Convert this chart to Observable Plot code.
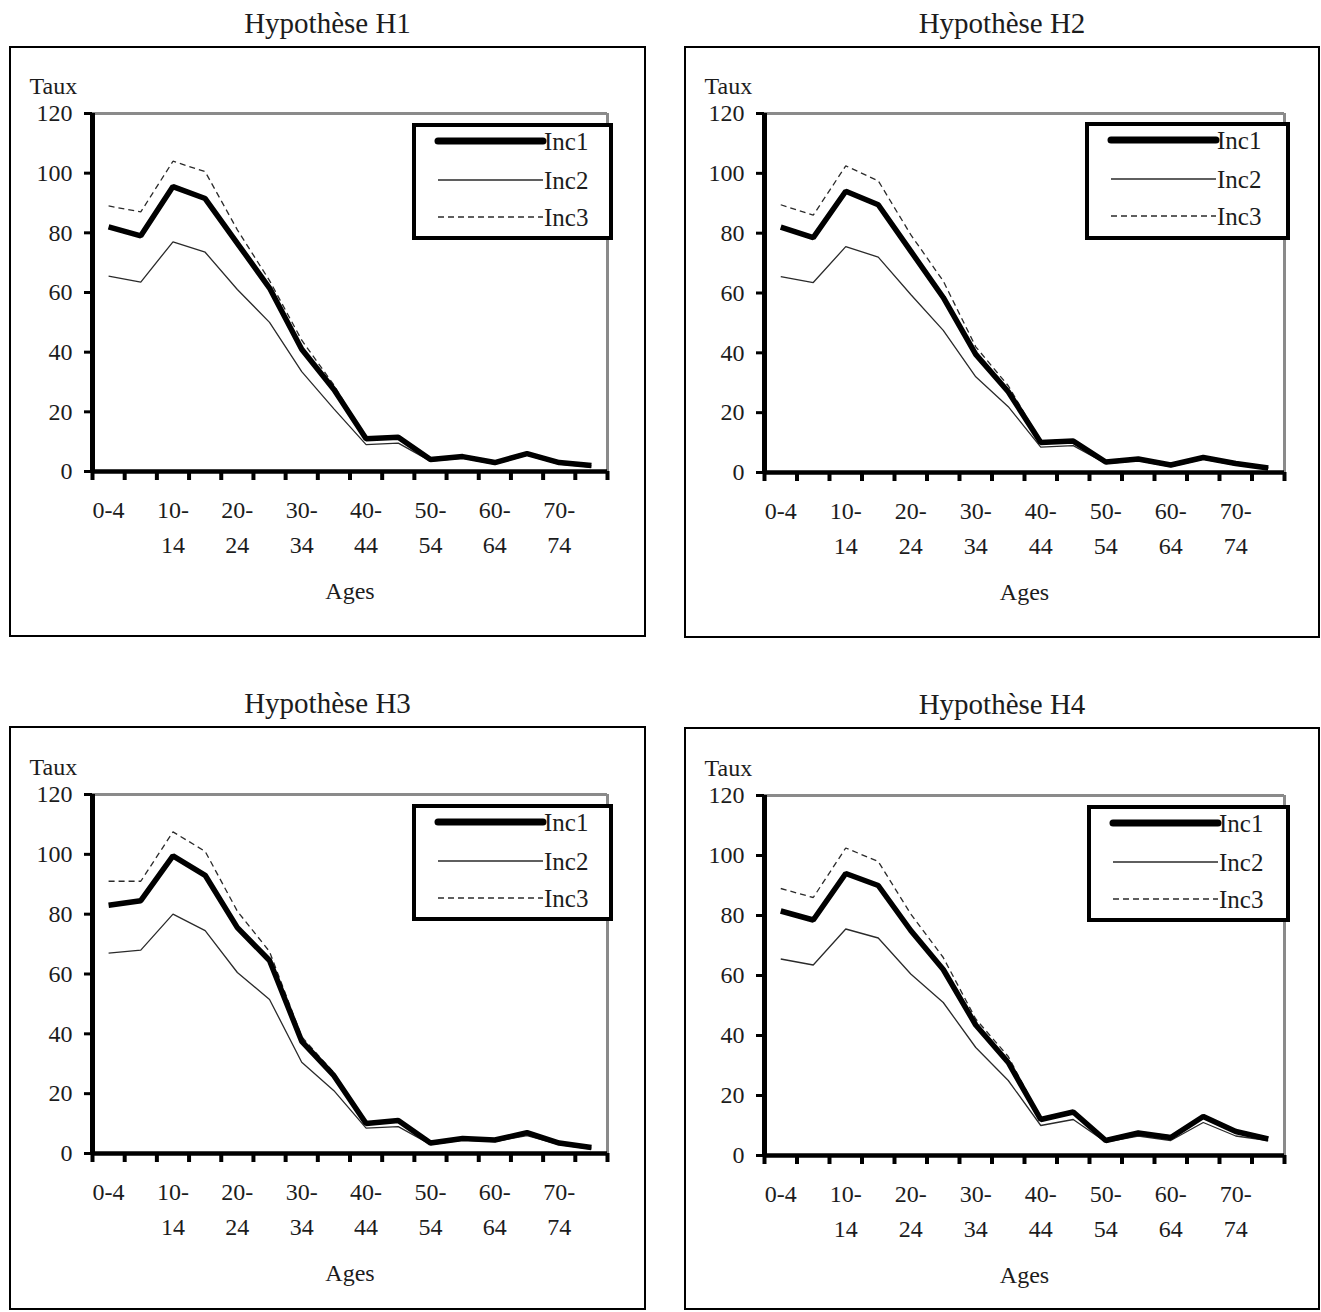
<!DOCTYPE html>
<html>
<head>
<meta charset="utf-8">
<script src="https://cdn.jsdelivr.net/npm/d3@7"></script>
<script src="https://cdn.jsdelivr.net/npm/@observablehq/plot@0.6"></script>
<style>
  html, body { margin: 0; padding: 0; background: #fff; }
  body { width: 1321px; height: 1312px; position: relative; overflow: hidden;
         font-family: "Liberation Serif", serif; color: #1c1c1c; }
  .box { position: absolute; border: 2px solid #000; box-sizing: border-box; }
  .title { position: absolute; text-align: center; font-size: 29px; line-height: 34px; white-space: nowrap; }
  .chart { position: absolute; }
  .chart svg, .chart svg text { font-family: "Liberation Serif", serif !important; }
  .legend { position: absolute; border: 4px solid #000; box-sizing: border-box; background: #fff; }
  .legend text { font-family: "Liberation Serif", serif; }
</style>
</head>
<body>
<script>
// ---- data ----
const ages = ["0-4","5-9","10-14","15-19","20-24","25-29","30-34","35-39","40-44","45-49","50-54","55-59","60-64","65-69","70-74","75+"];
const xTickLabels = ["0-4","10-\n14","20-\n24","30-\n34","40-\n44","50-\n54","60-\n64","70-\n74"];
const yTicks = [0, 20, 40, 60, 80, 100, 120];
const seriesNames = ["Inc1", "Inc2", "Inc3"];
const titles = ["Hypothèse H1", "Hypothèse H2", "Hypothèse H3", "Hypothèse H4"];
const yLabel = "Taux";
const xLabel = "Ages";

const h1Inc1 = [82, 79, 95.5, 91.5, 76.5, 61.5, 41, 27.5, 11, 11.5, 4, 5, 3, 6, 3, 2];
const h1Inc2 = [65.5, 63.5, 77, 73.5, 61, 50, 33.5, 21, 9, 9.5, 3.5, 4.5, 2.5, 5.5, 2.5, 1.5];
const h1Inc3 = [89, 87, 104, 100.5, 81, 64, 44, 29, 11, 12, 4, 5, 3, 6, 3, 2];

const h2Inc1 = [82, 78.5, 94, 89.5, 74, 58.5, 39.5, 27, 10, 10.5, 3.5, 4.5, 2.5, 5, 3, 1.5];
const h2Inc2 = [65.5, 63.5, 75.5, 72, 59.5, 47.5, 32, 22, 8.5, 9, 3, 4, 2, 4.5, 2.5, 1.5];
const h2Inc3 = [89.5, 86, 102.5, 97.5, 79.5, 64, 42, 29, 10.5, 11, 3.5, 4.5, 2.5, 5, 3, 1.5];

const h3Inc1 = [83, 84.5, 99.5, 93, 75.5, 64.5, 37.5, 26, 10, 11, 3.5, 5, 4.5, 7, 3.5, 2];
const h3Inc2 = [67, 68, 80, 74.5, 60.5, 51.5, 30.5, 21, 8.5, 9, 3, 4.5, 4, 6, 3, 1.5];
const h3Inc3 = [91, 91, 107.5, 101, 81, 67.5, 39, 27, 10, 11, 3.5, 5, 4.5, 7, 3.5, 2];

const h4Inc1 = [81.5, 78.5, 94, 90, 75, 62, 43.5, 31, 12, 14.5, 5, 7.5, 6, 13, 8, 5.5];
const h4Inc2 = [65.5, 63.5, 75.5, 72.5, 60.5, 51, 36, 25, 10, 12, 4.5, 6.5, 5, 11, 6.5, 5];
const h4Inc3 = [89, 86, 102.5, 98, 80.5, 66, 45.5, 33, 12.5, 15, 5.5, 8, 6.5, 13.5, 8.5, 6];

// ---- layout (page pixels) ----
const panels = [
  {title: titles[0], series: [h1Inc1, h1Inc2, h1Inc3],
   box: {l: 9, t: 46, r: 646, b: 637}, frame: {l: 92, r: 607, t: 113, b: 471}, legend: {l: 412, t: 123, r: 613, b: 240}},
  {title: titles[1], series: [h2Inc1, h2Inc2, h2Inc3],
   box: {l: 684, t: 46, r: 1320, b: 638}, frame: {l: 764, r: 1284, t: 113, b: 472}, legend: {l: 1085, t: 122, r: 1290, b: 240}},
  {title: titles[2], series: [h3Inc1, h3Inc2, h3Inc3],
   box: {l: 9, t: 726, r: 646, b: 1310}, frame: {l: 92, r: 607, t: 794, b: 1153}, legend: {l: 412, t: 804, r: 613, b: 921}},
  {title: titles[3], series: [h4Inc1, h4Inc2, h4Inc3],
   box: {l: 684, t: 727, r: 1320, b: 1310}, frame: {l: 764, r: 1284, t: 795, b: 1155}, legend: {l: 1087, t: 805, r: 1290, b: 922}}
];

const styles = {
  Inc1: {stroke: "#000", strokeWidth: 5.5, dash: null},
  Inc2: {stroke: "#2a2a2a", strokeWidth: 1.3, dash: null},
  Inc3: {stroke: "#2a2a2a", strokeWidth: 1.3, dash: "6,4"}
};
const FONT = "Liberation Serif";

function drawPanel(p) {
  const {box, frame, legend} = p;
  const W = box.r - box.l, H = box.b - box.t;

  const border = document.createElement("div");
  border.className = "box";
  Object.assign(border.style, {left: box.l + "px", top: box.t + "px", width: W + "px", height: H + "px"});
  document.body.appendChild(border);

  const title = document.createElement("div");
  title.className = "title";
  title.textContent = p.title;
  Object.assign(title.style, {left: box.l + "px", width: W + "px", top: (box.t - 40) + "px"});
  document.body.appendChild(title);

  const rows = seriesNames.map((name, k) => p.series[k].map((v, i) => ({i, v, name})));
  const lineMark = (k) => {
    const st = styles[seriesNames[k]];
    return Plot.lineY(rows[k], {
      x: d => d.i + 0.5, y: d => d.v,
      stroke: st.stroke, strokeWidth: st.strokeWidth,
      strokeDasharray: st.dash || undefined,
      strokeLinejoin: "miter", strokeLinecap: "butt"
    });
  };
  const labelPositions = xTickLabels.map((_, j) => 2 * j + 0.5);

  const svg = Plot.plot({
    width: W, height: H,
    marginLeft: frame.l - box.l, marginRight: box.r - frame.r,
    marginTop: frame.t - box.t, marginBottom: box.b - frame.b,
    style: {fontFamily: FONT, fontSize: "24px", color: "#1c1c1c", background: "transparent", overflow: "visible"},
    x: {type: "linear", domain: [0, ages.length]},
    y: {type: "linear", domain: [0, 120]},
    marks: [
      Plot.ruleY([120], {stroke: "#8a8a8a", strokeWidth: 3}),
      Plot.ruleX([ages.length], {stroke: "#8a8a8a", strokeWidth: 3}),
      lineMark(1),
      lineMark(2),
      lineMark(0),
      Plot.ruleX([0], {stroke: "#000", strokeWidth: 5}),
      Plot.ruleY([0], {stroke: "#000", strokeWidth: 4.5}),
      Plot.axisY(yTicks, {tickSize: 8, tickPadding: 12, strokeWidth: 3, stroke: "#000",
        fontSize: 24, fontFamily: FONT, label: null, tickFormat: d => String(d)}),
      Plot.axisX(d3.range(ages.length + 1), {tickSize: 9, strokeWidth: 4, stroke: "#000",
        tickFormat: () => "", label: null}),
      Plot.axisX(labelPositions, {tickSize: 0, tickPadding: 22, fontSize: 24, fontFamily: FONT, lineHeight: 1.45,
        label: null, tickFormat: d => xTickLabels[Math.round((d - 0.5) / 2)]}),
      Plot.text([yLabel], {frameAnchor: "top-left", text: d => d, textAnchor: "start", lineAnchor: "bottom",
        dx: box.l + 20 - frame.l, dy: -20, fontSize: 24, fontFamily: FONT}),
      Plot.text([xLabel], {frameAnchor: "bottom", text: d => d, lineAnchor: "middle", dy: 120, fontSize: 24, fontFamily: FONT})
    ]
  });
  const wrap = document.createElement("div");
  wrap.className = "chart";
  Object.assign(wrap.style, {left: box.l + "px", top: box.t + "px"});
  wrap.appendChild(svg);
  document.body.appendChild(wrap);

  // legend
  const LW = legend.r - legend.l, LH = legend.b - legend.t;
  const lg = document.createElement("div");
  lg.className = "legend";
  Object.assign(lg.style, {left: legend.l + "px", top: legend.t + "px", width: LW + "px", height: LH + "px"});
  const ls = d3.create("svg").attr("width", LW - 8).attr("height", LH - 8)
    .style("position", "absolute").style("left", "0px").style("top", "0px").style("overflow", "visible");
  const rowY = [14, 53, 90];
  seriesNames.forEach((name, k) => {
    const st = styles[name];
    ls.append("line").attr("x1", 22).attr("x2", 127).attr("y1", rowY[k]).attr("y2", rowY[k])
      .attr("stroke", st.stroke).attr("stroke-width", k === 0 ? 7 : st.strokeWidth)
      .attr("stroke-dasharray", st.dash).attr("stroke-linecap", k === 0 ? "round" : "butt");
    ls.append("text").attr("x", 128).attr("y", rowY[k] + 9)
      .style("font-family", FONT).style("font-size", "25px").attr("fill", "#1c1c1c").text(name);
  });
  lg.appendChild(ls.node());
  document.body.appendChild(lg);
}

panels.forEach(drawPanel);
</script>
</body>
</html>
